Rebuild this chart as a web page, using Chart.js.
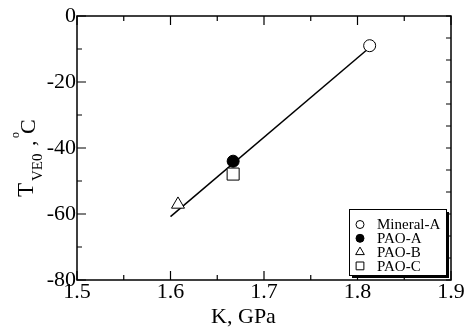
<!DOCTYPE html>
<html>
<head>
<meta charset="utf-8">
<script src="https://cdn.jsdelivr.net/npm/chart.js@4/dist/chart.umd.min.js"></script>
<style>
  html, body { margin: 0; padding: 0; background: #fff; }
  #wrap { width: 466px; height: 330px; position: relative; }
</style>
</head>
<body>
<div id="wrap"><canvas id="c" width="466" height="330"></canvas></div>
<script>
// ---- data ----
const seriesNames = ['Mineral-A', 'PAO-A', 'PAO-B', 'PAO-C'];
const kValues = [1.813, 1.667, 1.608, 1.667];      // K, GPa
const tValues = [-9.0, -44.0, -57.1, -47.9];        // T_VE0, °C
const fitK = [1.600, 1.819];
const fitT = [-60.8, -8.1];
const xTicks = [1.5, 1.6, 1.7, 1.8, 1.9];
const xMinorTicks = [1.55, 1.65, 1.75, 1.85];
const yTicks = [0, -20, -40, -60, -80];
const yMinorTicks = [-10, -30, -50, -70];
const rightTicks = [0, -6.667, -13.333, -20, -26.667, -33.333, -40, -46.667, -53.333, -60, -66.667, -73.333, -80];
const xTitle = 'K, GPa';
const yTitleParts = ['T', 'VE0', ',', 'o', 'C'];

const styles = [
  { pointStyle: 'circle',   radius: 6,   fill: '#ffffff', lr: 4 },
  { pointStyle: 'circle',   radius: 6,   fill: '#000000', lr: 4 },
  { pointStyle: 'triangle', radius: 7.5, fill: '#ffffff', lr: 5 },
  { pointStyle: 'rect',     radius: 8.5, fill: '#ffffff', lr: 5.5 }
];

const FONT = 'Liberation Serif';

const datasets = seriesNames.map((name, i) => ({
  label: name,
  data: [{ x: kValues[i], y: tValues[i] }],
  pointStyle: styles[i].pointStyle,
  pointRadius: styles[i].radius,
  pointHoverRadius: styles[i].radius,
  pointBackgroundColor: styles[i].fill,
  pointBorderColor: '#000',
  pointBorderWidth: 1,
  showLine: false,
  order: 0
}));
datasets.push({
  label: 'fit',
  data: fitK.map((k, i) => ({ x: k, y: fitT[i] })),
  showLine: true,
  borderColor: '#000',
  borderWidth: 1.5,
  pointRadius: 0,
  fill: false,
  order: 1
});

const framePlugin = {
  id: 'frame',
  afterDraw(chart) {
    const ctx = chart.ctx;
    const a = chart.chartArea;
    const xs = chart.scales.x, ys = chart.scales.y;
    ctx.save();
    ctx.strokeStyle = '#000';
    ctx.lineWidth = 1.5;
    ctx.strokeRect(a.left, a.top, a.right - a.left, a.bottom - a.top);
    ctx.lineWidth = 1.2;
    ctx.beginPath();
    const tick = (x1, y1, x2, y2) => { ctx.moveTo(x1, y1); ctx.lineTo(x2, y2); };
    xTicks.forEach(v => { const p = xs.getPixelForValue(v);
      tick(p, a.bottom, p, a.bottom - 9); tick(p, a.top, p, a.top + 9); });
    xMinorTicks.forEach(v => { const p = xs.getPixelForValue(v);
      tick(p, a.bottom, p, a.bottom - 5); tick(p, a.top, p, a.top + 5); });
    yTicks.forEach(v => { const p = ys.getPixelForValue(v); tick(a.left, p, a.left + 9, p); });
    yMinorTicks.forEach(v => { const p = ys.getPixelForValue(v); tick(a.left, p, a.left + 5, p); });
    rightTicks.forEach(v => { const p = ys.getPixelForValue(v); tick(a.right, p, a.right - 5, p); });
    ctx.stroke();

    // axis titles
    ctx.fillStyle = '#000';
    ctx.textBaseline = 'alphabetic';
    ctx.textAlign = 'center';
    ctx.font = '22px "' + FONT + '"';
    ctx.fillText(xTitle, 243.5, 323);

    ctx.textAlign = 'left';
    const drawRot = (txt, size, bx, by) => {
      ctx.save();
      ctx.translate(bx, by);
      ctx.rotate(-Math.PI / 2);
      ctx.font = size + 'px "' + FONT + '"';
      ctx.fillText(txt, 0, 0);
      ctx.restore();
    };
    drawRot(yTitleParts[0], 23, 33, 197);
    drawRot(yTitleParts[1], 15, 42, 181);
    drawRot(yTitleParts[2], 22, 35, 146);
    drawRot(yTitleParts[3], 12, 18.5, 138);
    drawRot(yTitleParts[4], 22, 35, 134);

    // legend
    const lx = 349, ly = 209, lw = 97, lh = 66;
    ctx.fillStyle = '#000';
    ctx.fillRect(lx + 3, ly + 3, lw, lh);
    ctx.fillStyle = '#fff';
    ctx.fillRect(lx, ly, lw, lh);
    ctx.strokeStyle = '#000';
    ctx.lineWidth = 1;
    ctx.strokeRect(lx + 0.5, ly + 0.5, lw, lh);
    ctx.font = '15px "' + FONT + '"';
    ctx.textBaseline = 'middle';
    seriesNames.forEach((name, i) => {
      const cy = 224.5 + i * 13.8;
      ctx.fillStyle = styles[i].fill;
      ctx.strokeStyle = '#000';
      ctx.lineWidth = 1;
      Chart.helpers.drawPoint(ctx, { pointStyle: styles[i].pointStyle, radius: styles[i].lr, rotation: 0, borderWidth: 1 }, 360, cy);
      ctx.fillStyle = '#000';
      ctx.fillText(name, 377, cy + 1);
    });
    ctx.restore();
  }
};

new Chart(document.getElementById('c'), {
  type: 'scatter',
  data: { datasets },
  options: {
    responsive: false,
    animation: false,
    events: [],
    layout: { padding: { left: 0, right: 15, top: 16, bottom: 0 } },
    plugins: { legend: { display: false }, tooltip: { enabled: false } },
    scales: {
      x: {
        type: 'linear', min: 1.5, max: 1.9,
        afterFit: s => { s.height = 50; },
        afterBuildTicks: s => { s.ticks = xTicks.map(v => ({ value: v })); },
        grid: { display: false, drawTicks: false },
        border: { display: false },
        ticks: {
          autoSkip: false, maxRotation: 0, padding: -1, color: '#000',
          font: { family: FONT, size: 22 },
          callback: v => v.toFixed(1)
        }
      },
      y: {
        type: 'linear', min: -80, max: 0,
        afterFit: s => { s.width = 77; },
        afterBuildTicks: s => { s.ticks = yTicks.map(v => ({ value: v })); },
        grid: { display: false, drawTicks: false },
        border: { display: false },
        ticks: {
          autoSkip: false, padding: 1, color: '#000',
          font: { family: FONT, size: 22 },
          callback: v => String(v)
        }
      }
    }
  },
  plugins: [framePlugin]
});
</script>
</body>
</html>
